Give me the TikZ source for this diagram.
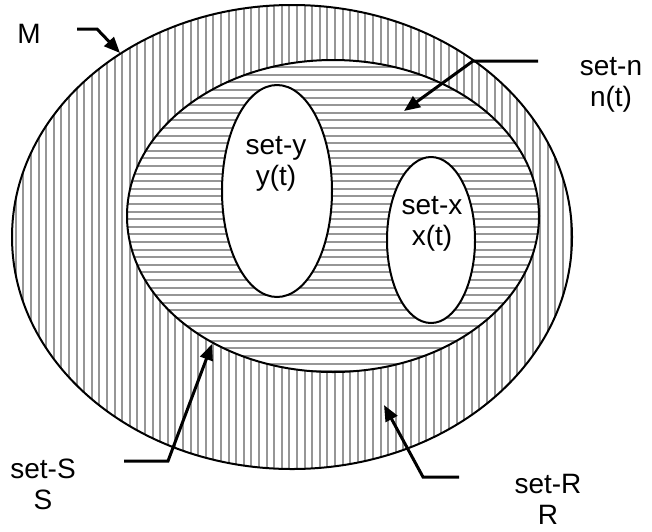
\documentclass[tikz,border=0pt]{standalone}
\usepackage{fontspec}
\setmainfont{Liberation Sans}
\usetikzlibrary{arrows.meta,shapes.geometric}
\definecolor{hatchgray}{RGB}{150,150,150}
\begin{document}
\begin{tikzpicture}[x=1pt,y=-1pt,
  hatch/.style={draw=hatchgray,line width=2pt},
  border/.style={draw=black,line width=2pt},
  pointer/.style={draw=black,line width=3pt,line join=miter,-{Triangle[length=16pt,width=13pt]}},
  lbl/.style={font=\fontsize{28}{31}\selectfont,align=center,inner sep=0pt}]
\useasboundingbox (0,0) rectangle (652,531);
% outer ring hatch (vertical)
\begin{scope}
  \clip (292,237) ellipse [x radius=280, y radius=232];
  \foreach \x in {0.5,8.1,...,652} \draw[hatch] (\x,0) -- (\x,531);
\end{scope}
% inner region hatch (horizontal)
\fill[white] (333,216) ellipse [x radius=206, y radius=156];
\begin{scope}
  \clip (333,216) ellipse [x radius=206, y radius=156];
  \foreach \y in {6.4,14,...,531} \draw[hatch] (0,\y) -- (652,\y);
\end{scope}
% set borders
\node[ellipse,border,inner sep=0pt,minimum width=560pt,minimum height=464pt] (outer) at (292,237) {};
\node[ellipse,border,inner sep=0pt,minimum width=412pt,minimum height=312pt] (inner) at (333,216) {};
\node[ellipse,border,fill=white,inner sep=0pt,minimum width=110pt,minimum height=212pt] (sety) at (277,191) {};
\node[ellipse,border,fill=white,inner sep=0pt,minimum width=88pt,minimum height=166pt] (setx) at (431,240) {};
% labels
\node[lbl] (lM) at (29,34) {M};
\node[lbl] (ln) at (611,85) {set-n\\n(t)};
\node[lbl] (ly) at (276,164) {set-y\\y(t)};
\node[lbl] (lx) at (432,224) {set-x\\x(t)};
\node[lbl] (lS) at (43,484) {set-S\\S};
\node[lbl] (lR) at (548,499) {set-R\\R};
% connector points
\coordinate (mA) at (77,29);  \coordinate (mB) at (97,29);  \coordinate (mT) at (120,53);
\coordinate (nA) at (538,61); \coordinate (nB) at (473,61); \coordinate (nT) at (404,111);
\coordinate (sA) at (124,461);\coordinate (sB) at (168,461);\coordinate (sT) at (212,344);
\coordinate (rA) at (459,477);\coordinate (rB) at (423,477);\coordinate (rT) at (384,405);
\draw[pointer] (mA) -- (mB) -- (mT);
\draw[pointer] (nA) -- (nB) -- (nT);
\draw[pointer] (sA) -- (sB) -- (sT);
\draw[pointer] (rA) -- (rB) -- (rT);
\end{tikzpicture}
\end{document}
